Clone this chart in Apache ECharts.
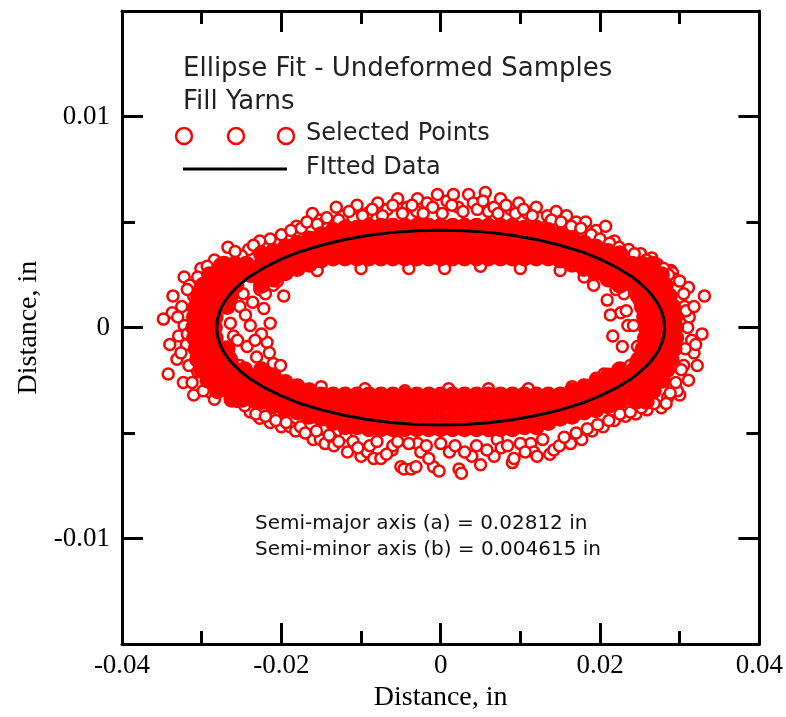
<!DOCTYPE html>
<html>
<head>
<meta charset="utf-8">
<script src="https://cdn.jsdelivr.net/npm/echarts@6.0.0/dist/echarts.min.js"></script>
<style>
html,body{margin:0;padding:0;background:#fff;}
#chart{width:786px;height:717px;}
</style>
</head>
<body>
<div id="chart"></div>
<script>
// ---- axis ticks ----
const xTickInterval = 0.02;
const yMajorTicks = [-0.01, 0, 0.01];
const yMinorTicks = [-0.005, 0.005];

// ---- fitted ellipse (a = 0.02812 in, b = 0.004615 in), read as points ----
const fitPoints = [
  [0.02812,0],[0.0280,0.00043],[0.0277,0.00080],[0.0273,0.00111],[0.0270,0.00129],[0.0265,0.00154],
  [0.0260,0.00176],[0.0250,0.00211],[0.0240,0.00241],[0.0220,0.00287],[0.0200,0.00324],[0.0180,0.00355],
  [0.0150,0.00390],[0.0120,0.00417],[0.0090,0.00437],[0.0060,0.00451],[0.0030,0.00459],[0,0.004615],
  [-0.0030,0.00459],[-0.0060,0.00451],[-0.0090,0.00437],[-0.0120,0.00417],[-0.0150,0.00390],[-0.0180,0.00355],
  [-0.0200,0.00324],[-0.0220,0.00287],[-0.0240,0.00241],[-0.0250,0.00211],[-0.0260,0.00176],[-0.0265,0.00154],
  [-0.0270,0.00129],[-0.0273,0.00111],[-0.0277,0.00080],[-0.0280,0.00043],[-0.02812,0],
  [-0.0280,-0.00043],[-0.0277,-0.00080],[-0.0273,-0.00111],[-0.0270,-0.00129],[-0.0265,-0.00154],
  [-0.0260,-0.00176],[-0.0250,-0.00211],[-0.0240,-0.00241],[-0.0220,-0.00287],[-0.0200,-0.00324],[-0.0180,-0.00355],
  [-0.0150,-0.00390],[-0.0120,-0.00417],[-0.0090,-0.00437],[-0.0060,-0.00451],[-0.0030,-0.00459],[0,-0.004615],
  [0.0030,-0.00459],[0.0060,-0.00451],[0.0090,-0.00437],[0.0120,-0.00417],[0.0150,-0.00390],[0.0180,-0.00355],
  [0.0200,-0.00324],[0.0220,-0.00287],[0.0240,-0.00241],[0.0250,-0.00211],[0.0260,-0.00176],[0.0265,-0.00154],
  [0.0270,-0.00129],[0.0273,-0.00111],[0.0277,-0.00080],[0.0280,-0.00043],[0.02812,0]
];

// ---- dense bands of selected points (x, [y...]) ----
const denseTopCols = [
  [-0.0225,[0.0020,0.0025,0.0030,0.0035]],
  [-0.0210,[0.0023,0.0027,0.0031,0.0036]],
  [-0.0195,[0.0026,0.0030,0.0034,0.0038]],
  [-0.0180,[0.0028,0.0032,0.0036,0.0040]],
  [-0.0165,[0.0030,0.0034,0.0038,0.0042]],
  [-0.0150,[0.0032,0.0036,0.0040,0.0044]],
  [-0.0135,[0.0033,0.0038,0.0042,0.0046]],
  [-0.0120,[0.0033,0.0038,0.0043,0.0047]],
  [-0.0105,[0.0033,0.0038,0.0043,0.0047]],
  [-0.0090,[0.0033,0.0038,0.0043,0.0048]],
  [-0.0075,[0.0033,0.0038,0.0043,0.0048]],
  [-0.0060,[0.0033,0.0038,0.0043,0.0048]],
  [-0.0045,[0.0033,0.0038,0.0043,0.0048]],
  [-0.0030,[0.0033,0.0038,0.0043,0.0048]],
  [-0.0015,[0.0033,0.0038,0.0043,0.0048]],
  [0.0000,[0.0033,0.0038,0.0043,0.0048]],
  [0.0015,[0.0033,0.0038,0.0043,0.0048]],
  [0.0030,[0.0033,0.0038,0.0043,0.0048]],
  [0.0045,[0.0033,0.0038,0.0043,0.0048]],
  [0.0060,[0.0033,0.0038,0.0043,0.0048]],
  [0.0075,[0.0033,0.0038,0.0043,0.0048]],
  [0.0090,[0.0033,0.0038,0.0043,0.0048]],
  [0.0105,[0.0033,0.0038,0.0043,0.0047]],
  [0.0120,[0.0033,0.0038,0.0043,0.0047]],
  [0.0135,[0.0033,0.0038,0.0042,0.0046]],
  [0.0150,[0.0032,0.0036,0.0040,0.0044]],
  [0.0165,[0.0030,0.0034,0.0038,0.0042]],
  [0.0180,[0.0028,0.0032,0.0036,0.0040]],
  [0.0195,[0.0026,0.0030,0.0034,0.0038]],
  [0.0210,[0.0023,0.0027,0.0031,0.0036]],
  [0.0225,[0.0020,0.0025,0.0030,0.0035]]
];
const denseBottomCols = [
  [-0.0225,[-0.0020,-0.0025,-0.0030,-0.0035]],
  [-0.0210,[-0.0023,-0.0028,-0.0032,-0.0037]],
  [-0.0195,[-0.0026,-0.0030,-0.0034,-0.0039]],
  [-0.0180,[-0.0028,-0.0032,-0.0036,-0.0040]],
  [-0.0165,[-0.0030,-0.0034,-0.0038,-0.0042]],
  [-0.0150,[-0.0032,-0.0036,-0.0040,-0.0043]],
  [-0.0135,[-0.0032,-0.0037,-0.0041,-0.0045]],
  [-0.0120,[-0.0032,-0.0037,-0.0042,-0.0047]],
  [-0.0105,[-0.0032,-0.0037,-0.0042,-0.0047]],
  [-0.0090,[-0.0032,-0.0037,-0.0043,-0.0048]],
  [-0.0075,[-0.0032,-0.0037,-0.0043,-0.0048]],
  [-0.0060,[-0.0032,-0.0037,-0.0043,-0.0048]],
  [-0.0045,[-0.0032,-0.0037,-0.0043,-0.0048]],
  [-0.0030,[-0.0032,-0.0037,-0.0043,-0.0048]],
  [-0.0015,[-0.0032,-0.0037,-0.0043,-0.0048]],
  [0.0000,[-0.0032,-0.0037,-0.0043,-0.0048]],
  [0.0015,[-0.0032,-0.0037,-0.0043,-0.0048]],
  [0.0030,[-0.0032,-0.0037,-0.0043,-0.0048]],
  [0.0045,[-0.0032,-0.0037,-0.0043,-0.0048]],
  [0.0060,[-0.0032,-0.0037,-0.0043,-0.0048]],
  [0.0075,[-0.0032,-0.0037,-0.0043,-0.0048]],
  [0.0090,[-0.0032,-0.0037,-0.0043,-0.0048]],
  [0.0105,[-0.0032,-0.0037,-0.0042,-0.0047]],
  [0.0120,[-0.0032,-0.0037,-0.0042,-0.0047]],
  [0.0135,[-0.0032,-0.0037,-0.0041,-0.0045]],
  [0.0150,[-0.0032,-0.0036,-0.0040,-0.0043]],
  [0.0165,[-0.0030,-0.0034,-0.0038,-0.0042]],
  [0.0180,[-0.0028,-0.0032,-0.0036,-0.0040]],
  [0.0195,[-0.0026,-0.0030,-0.0034,-0.0039]],
  [0.0210,[-0.0023,-0.0028,-0.0032,-0.0037]],
  [0.0225,[-0.0020,-0.0025,-0.0030,-0.0035]]
];
// end caps: (y, [x...])
const denseLeftRows = [
  [0.0030,[-0.0272,-0.0258,-0.0244]],
  [0.0025,[-0.0290,-0.0277,-0.0263,-0.0250,-0.0238]],
  [0.0020,[-0.0298,-0.0284,-0.0271,-0.0257]],
  [0.0015,[-0.0304,-0.0290,-0.0277,-0.0264]],
  [0.0010,[-0.0307,-0.0294,-0.0281,-0.0268]],
  [0.0005,[-0.0309,-0.0296,-0.0283]],
  [0.0000,[-0.0310,-0.0297,-0.0284]],
  [-0.0005,[-0.0309,-0.0296,-0.0283]],
  [-0.0010,[-0.0307,-0.0294,-0.0281,-0.0268]],
  [-0.0015,[-0.0305,-0.0291,-0.0278,-0.0265]],
  [-0.0020,[-0.0300,-0.0287,-0.0273,-0.0259,-0.0246]],
  [-0.0025,[-0.0292,-0.0278,-0.0264,-0.0251,-0.0238]],
  [-0.0030,[-0.0280,-0.0266,-0.0252,-0.0239]],
  [-0.0034,[-0.0262,-0.0249,-0.0236]]
];
const denseRightRows = [
  [0.0030,[0.0240,0.0253,0.0266]],
  [0.0025,[0.0238,0.0251,0.0264,0.0277]],
  [0.0020,[0.0243,0.0256,0.0269,0.0282]],
  [0.0015,[0.0248,0.0261,0.0274,0.0287]],
  [0.0010,[0.0253,0.0266,0.0279,0.0291]],
  [0.0005,[0.0256,0.0269,0.0282,0.0294]],
  [0.0000,[0.0258,0.0271,0.0284,0.0295]],
  [-0.0005,[0.0257,0.0270,0.0283,0.0295]],
  [-0.0010,[0.0254,0.0267,0.0280,0.0293]],
  [-0.0015,[0.0249,0.0262,0.0275,0.0289]],
  [-0.0020,[0.0243,0.0256,0.0269,0.0284]],
  [-0.0025,[0.0237,0.0250,0.0263,0.0278]],
  [-0.0030,[0.0240,0.0253,0.0267]],
  [-0.0035,[0.0245,0.0258]]
];

// ---- scattered (individually visible) selected points ----
const outerTopPts = [
  [-0.0267,0.0038],[-0.0241,0.0037],[-0.0214,0.0042],[-0.0190,0.0044],[-0.0181,0.0048],[-0.0161,0.0054],
  [-0.0151,0.0051],[-0.0131,0.0057],[-0.0122,0.0053],[-0.0110,0.0052],[-0.0105,0.0058],[-0.0092,0.0054],
  [-0.0079,0.0059],[-0.0067,0.0056],[-0.0054,0.0061],[-0.0042,0.0057],[-0.0030,0.0055],[-0.0029,0.0061],
  [-0.0017,0.0059],[-0.0004,0.0063],[0.0008,0.0060],[0.0016,0.0063],[0.0022,0.0057],[0.0035,0.0063],
  [0.0041,0.0059],[0.0056,0.0064],[0.0060,0.0055],[0.0067,0.0057],[0.0075,0.0061],[0.0088,0.0056],
  [0.0098,0.0059],[0.0109,0.0054],[0.0120,0.0057],[0.0125,0.0052],[0.0134,0.0053],[0.0145,0.0055],
  [0.0158,0.0053],[0.0170,0.0050],[0.0182,0.0050],[0.0195,0.0046],[0.0207,0.0048],[0.0218,0.0041],
  [0.0236,0.0037],[0.0251,0.0035],[0.0265,0.0033],[0.0289,0.0027],[-0.0250,0.0034],[-0.0227,0.0041]
];
const nearTopPts = [
  [-0.0200,0.0044],[-0.0188,0.0046],[-0.0175,0.0047],[-0.0168,0.0050],[-0.0155,0.0049],[-0.0143,0.0052],
  [-0.0128,0.0051],[-0.0115,0.0055],[-0.0098,0.0053],[-0.0086,0.0056],[-0.0073,0.0053],[-0.0060,0.0058],
  [-0.0048,0.0054],[-0.0036,0.0058],[-0.0022,0.0054],[-0.0010,0.0057],[0.0002,0.0054],[0.0014,0.0058],
  [0.0028,0.0055],[0.0046,0.0056],[0.0053,0.0060],[0.0072,0.0054],[0.0082,0.0058],[0.0094,0.0054],
  [0.0104,0.0056],[0.0115,0.0053],[0.0139,0.0051],[0.0151,0.0050],[0.0164,0.0048],[0.0176,0.0047],
  [0.0189,0.0044],[0.0200,0.0042],[0.0212,0.0040],[0.0224,0.0038],[0.0243,0.0035],[0.0258,0.0032],
  [0.0272,0.0030],[0.0280,0.0028],[-0.0235,0.0039],[-0.0258,0.0036],[-0.0284,0.0032]
];
const outerBottomPts = [
  [-0.0255,-0.0035],[-0.0239,-0.0040],[-0.0227,-0.0043],[-0.0214,-0.0045],[-0.0200,-0.0047],[-0.0189,-0.0047],
  [-0.0182,-0.0049],[-0.0163,-0.0051],[-0.0160,-0.0053],[-0.0151,-0.0053],[-0.0145,-0.0055],[-0.0135,-0.0053],
  [-0.0134,-0.0056],[-0.0119,-0.0051],[-0.0117,-0.0059],[-0.0100,-0.0061],[-0.0092,-0.0059],[-0.0089,-0.0056],
  [-0.0084,-0.0062],[-0.0075,-0.0062],[-0.0061,-0.0058],[-0.0060,-0.0056],[-0.0054,-0.0054],[-0.0050,-0.0066],
  [-0.0046,-0.0067],[-0.0037,-0.0067],[-0.0031,-0.0066],[-0.0029,-0.0055],[-0.0025,-0.0059],[-0.0009,-0.0066],
  [-0.0002,-0.0068],[0.0011,-0.0059],[0.0023,-0.0067],[0.0026,-0.0069],[0.0039,-0.0061],[0.0050,-0.0065],
  [0.0067,-0.0061],[0.0071,-0.0053],[0.0076,-0.0057],[0.0090,-0.0064],[0.0092,-0.0062],[0.0113,-0.0055],
  [0.0117,-0.0059],[0.0121,-0.0061],[0.0137,-0.0060],[0.0142,-0.0058],[0.0149,-0.0056],[0.0163,-0.0055],
  [0.0177,-0.0053],[0.0190,-0.0049],[0.0204,-0.0047],[0.0218,-0.0044],[0.0232,-0.0042],[0.0245,-0.0041],
  [0.0259,-0.0039],[0.0277,-0.0038]
];
const nearBottomPts = [
  [-0.0246,-0.0037],[-0.0232,-0.0041],[-0.0220,-0.0042],[-0.0207,-0.0044],[-0.0194,-0.0045],[-0.0176,-0.0047],
  [-0.0170,-0.0050],[-0.0156,-0.0049],[-0.0140,-0.0051],[-0.0128,-0.0054],[-0.0110,-0.0054],[-0.0104,-0.0057],
  [-0.0080,-0.0054],[-0.0068,-0.0060],[-0.0040,-0.0055],[-0.0018,-0.0056],[-0.0015,-0.0062],[0.0000,-0.0055],
  [0.0018,-0.0056],[0.0030,-0.0059],[0.0045,-0.0056],[0.0058,-0.0058],[0.0084,-0.0056],[0.0100,-0.0055],
  [0.0106,-0.0059],[0.0128,-0.0053],[0.0155,-0.0052],[0.0170,-0.0050],[0.0184,-0.0048],[0.0197,-0.0046],
  [0.0211,-0.0044],[0.0225,-0.0041],[0.0238,-0.0040],[0.0252,-0.0038],[0.0268,-0.0036],[0.0285,-0.0033],
  [0.0292,-0.0028]
];
const outerLeftPts = [
  [-0.0277,0.0030],[-0.0301,0.0028],[-0.0322,0.0024],[-0.0315,0.0020],[-0.0336,0.0015],[-0.0310,0.0015],
  [-0.0337,0.0007],[-0.0320,0.0006],[-0.0348,0.0004],[-0.0329,-0.0004],[-0.0340,-0.0008],[-0.0331,-0.0015],
  [-0.0342,-0.0022],[-0.0305,-0.0021],[-0.0323,-0.0026],[-0.0310,-0.0032],[-0.0288,-0.0031],[-0.0284,-0.0034],
  [-0.0318,0.0018],[-0.0325,0.0010],[-0.0322,0.0001],[-0.0330,0.0005],[-0.0319,-0.0008],[-0.0326,-0.0012],
  [-0.0316,-0.0018],[-0.0312,-0.0026],[-0.0298,-0.0030],[-0.0305,0.0024],[-0.0293,0.0029],[-0.0318,-0.0003]
];
const outerRightPts = [
  [0.0291,0.0026],[0.0293,0.0023],[0.0311,0.0019],[0.0331,0.0015],[0.0328,-0.0003],[0.0318,-0.0012],
  [0.0322,-0.0018],[0.0311,-0.0025],[0.0300,-0.0032],[0.0297,-0.0030],[0.0312,0.0005],[0.0315,-0.0006],
  [0.0306,0.0010],[0.0305,-0.0018],[0.0283,-0.0036],[0.0300,0.0022],[0.0305,0.0016],[0.0308,0.0008],
  [0.0310,0.0000],[0.0307,-0.0010],[0.0302,-0.0020],[0.0295,-0.0026],[0.0288,-0.0031],[0.0318,0.0010],
  [0.0320,-0.0008],[0.0286,0.0025]
];
const innerLeftPts = [
  [-0.0197,0.0015],[-0.0210,0.0020],[-0.0227,0.0018],[-0.0252,0.0010],[-0.0239,0.0001],[-0.0264,0.0002],
  [-0.0214,0.0002],[-0.0218,-0.0007],[-0.0243,-0.0009],[-0.0268,-0.0010],[-0.0231,-0.0014],[-0.0252,-0.0018],
  [-0.0210,-0.0017],[-0.0201,-0.0018],[-0.0258,0.0018],[-0.0245,0.0006],[-0.0225,-0.0003],[-0.0260,-0.0004],
  [-0.0236,0.0012],[-0.0222,0.0009],[-0.0270,0.0014],[-0.0262,-0.0016],[-0.0248,0.0016],[-0.0233,-0.0006],
  [-0.0255,-0.0006],[-0.0240,-0.0022],[-0.0220,0.0016],[-0.0205,0.0022],[-0.0215,-0.0012]
];
const innerRightPts = [
  [0.0192,0.0020],[0.0209,0.0013],[0.0216,-0.0004],[0.0226,0.0007],[0.0235,0.0001],[0.0247,-0.0009],
  [0.0228,-0.0009],[0.0242,0.0001],[0.0230,0.0016],[0.0238,-0.0018],[0.0222,-0.0020],[0.0205,-0.0022],
  [0.0250,0.0012],[0.0245,-0.0016],[0.0233,0.0008],[0.0213,0.0006],[0.0220,0.0018]
];
const innerEdgePts = [
  [-0.0155,0.0027],[-0.0100,0.0028],[-0.0040,0.0028],[0.0005,0.0028],[0.0050,0.0029],[0.0100,0.0028],
  [0.0150,0.0027],[0.0180,0.0024],[-0.0150,-0.0028],[-0.0095,-0.0029],[-0.0045,-0.0030],[0.0010,-0.0029],
  [0.0060,-0.0029],[0.0110,-0.0029],[0.0165,-0.0028],[0.0195,-0.0024]
];

const densePts = []
  .concat(denseTopCols.flatMap(([x, ys]) => ys.map(y => [x, y])))
  .concat(denseBottomCols.flatMap(([x, ys]) => ys.map(y => [x, y])))
  .concat(denseLeftRows.flatMap(([y, xs]) => xs.map(x => [x, y])))
  .concat(denseRightRows.flatMap(([y, xs]) => xs.map(x => [x, y])));
const sparsePts = [].concat(outerTopPts, nearTopPts, outerBottomPts, nearBottomPts,
  outerLeftPts, outerRightPts, innerLeftPts, innerRightPts, innerEdgePts);

const RED = '#ff0000';
const tickStyle = {color:'#000', width:3};
const lineStyleAxis = {color:'#000', width:3};
const serif = 'Liberation Serif';

const chart = echarts.init(document.getElementById('chart'));
chart.setOption({
  animation: false,
  backgroundColor: '#fff',
  grid: {left:122, top:11, width:638, height:634},
  xAxis: [
    {type:'value', position:'bottom', min:-0.04, max:0.04, interval:xTickInterval,
     axisLine:{show:true, onZero:false, lineStyle:lineStyleAxis},
     axisTick:{show:true, inside:true, length:21, lineStyle:tickStyle},
     minorTick:{show:true, splitNumber:2, length:13, lineStyle:tickStyle},
     splitLine:{show:false}, minorSplitLine:{show:false},
     axisLabel:{fontFamily:serif, fontSize:27, color:'#000', margin:8},
     name:'Distance, in', nameLocation:'middle', nameGap:38,
     nameTextStyle:{fontFamily:serif, fontSize:28, color:'#000'}},
    {type:'value', position:'top', min:-0.04, max:0.04, interval:xTickInterval,
     axisLine:{show:true, onZero:false, lineStyle:lineStyleAxis},
     axisTick:{show:true, inside:true, length:21, lineStyle:tickStyle},
     minorTick:{show:true, splitNumber:2, length:13, lineStyle:tickStyle},
     splitLine:{show:false}, minorSplitLine:{show:false},
     axisLabel:{show:false}}
  ],
  yAxis: [
    {type:'value', position:'left', min:-0.015, max:0.015,
     axisLine:{show:true, onZero:false, lineStyle:lineStyleAxis},
     axisTick:{show:true, inside:true, length:21, customValues:yMajorTicks, lineStyle:tickStyle},
     axisLabel:{customValues:yMajorTicks, fontFamily:serif, fontSize:27, color:'#000', margin:12},
     splitLine:{show:false},
     name:'Distance, in', nameLocation:'middle', nameGap:78, nameRotate:90,
     nameTextStyle:{fontFamily:serif, fontSize:28, color:'#000'}},
    {type:'value', position:'right', min:-0.015, max:0.015,
     axisLine:{show:true, onZero:false, lineStyle:lineStyleAxis},
     axisTick:{show:true, inside:true, length:21, customValues:yMajorTicks, lineStyle:tickStyle},
     axisLabel:{show:false}, splitLine:{show:false}},
    {type:'value', position:'left', min:-0.015, max:0.015,
     axisLine:{show:false, onZero:false},
     axisTick:{show:true, inside:true, length:13, customValues:yMinorTicks, lineStyle:tickStyle},
     axisLabel:{show:false}, splitLine:{show:false}},
    {type:'value', position:'right', min:-0.015, max:0.015,
     axisLine:{show:false, onZero:false},
     axisTick:{show:true, inside:true, length:13, customValues:yMinorTicks, lineStyle:tickStyle},
     axisLabel:{show:false}, splitLine:{show:false}}
  ],
  series: [
    {name:'Selected Points', type:'scatter', data:sparsePts, symbol:'circle', symbolSize:11,
     itemStyle:{color:'#fff', borderColor:RED, borderWidth:2.5, opacity:1}, z:2, silent:true},
    {name:'Selected Points', type:'scatter', data:densePts, symbol:'circle', symbolSize:17,
     itemStyle:{color:RED, opacity:1}, z:3, silent:true},
    {name:'Fitted Data', type:'line', data:fitPoints, showSymbol:false, symbol:'none', smooth:false,
     lineStyle:{color:'#000', width:3}, z:4, silent:true}
  ],
  graphic: [
    {type:'text', x:183, y:69, style:{text:'Ellipse Fit - Undeformed Samples', font:'26px "DejaVu Sans"', fill:'#222', verticalAlign:'middle'}},
    {type:'text', x:183, y:102, style:{text:'Fill Yarns', font:'26px "DejaVu Sans"', fill:'#222', verticalAlign:'middle'}},
    {type:'circle', shape:{cx:184, cy:136, r:8}, style:{fill:'#fff', stroke:RED, lineWidth:2.5}},
    {type:'circle', shape:{cx:236, cy:136, r:8}, style:{fill:'#fff', stroke:RED, lineWidth:2.5}},
    {type:'circle', shape:{cx:286, cy:136, r:8}, style:{fill:'#fff', stroke:RED, lineWidth:2.5}},
    {type:'text', x:306, y:134, style:{text:'Selected Points', font:'24px "DejaVu Sans"', fill:'#222', verticalAlign:'middle'}},
    {type:'line', shape:{x1:183, y1:169, x2:287, y2:169}, style:{stroke:'#000', lineWidth:3}},
    {type:'text', x:306, y:168, style:{text:'FItted Data', font:'24px "DejaVu Sans"', fill:'#222', verticalAlign:'middle'}},
    {type:'text', x:255, y:524, style:{text:'Semi-major axis (a) = 0.02812 in', font:'20px "DejaVu Sans"', fill:'#111', verticalAlign:'middle'}},
    {type:'text', x:255, y:550, style:{text:'Semi-minor axis (b) = 0.004615 in', font:'20px "DejaVu Sans"', fill:'#111', verticalAlign:'middle'}}
  ]
});
</script>
</body>
</html>
